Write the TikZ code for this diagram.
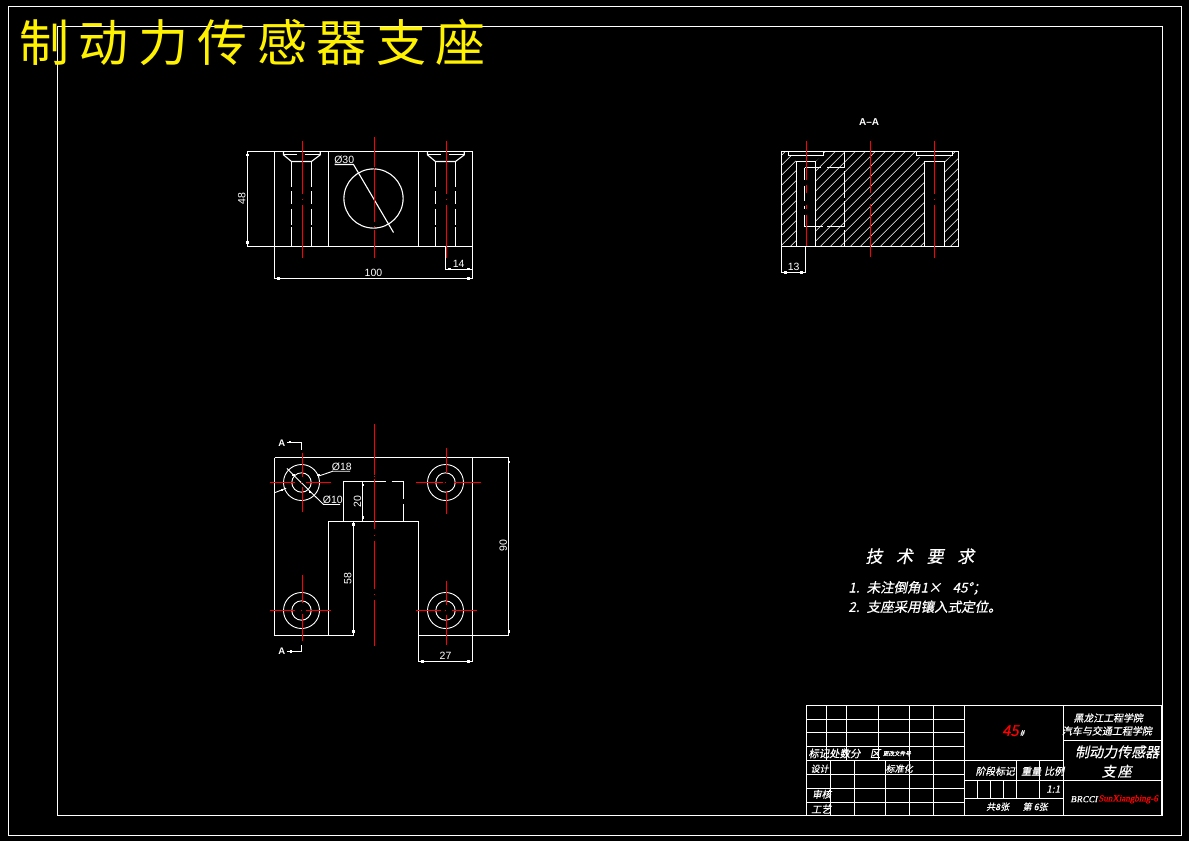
\documentclass[tikz,border=0pt]{standalone}
\usepackage{fontspec}
\setmainfont{Liberation Sans}
\newfontfamily\cjk{Noto Sans CJK SC}
\newfontfamily\cjkit[FakeSlant=0.2,FakeBold=0.5]{Noto Sans CJK SC}
\newfontfamily\serifit[FakeSlant=0.2,FakeBold=1]{Liberation Serif}
\newcommand{\fsz}[1]{\fontsize{#1}{#1}\selectfont}
\tikzset{
	outline/.style={draw=white,line width=1.1pt},
	thinline/.style={draw=white,line width=0.9pt},
	redline/.style={draw=red,line width=1.1pt},
	hatchline/.style={draw=white,line width=0.6pt},
	dimtext/.style={text=white,inner sep=0pt,font=\fsz{10.5}},
	blocktext/.style={text=white,inner sep=0pt,font=\cjkit\fsz{#1}},
	blocktext/.default=10
}
\begin{document}
\begin{tikzpicture}[x=1pt,y=-1pt,shift={(0.2,0.2)}]
	\fill[black] (-0.2,-0.2) rectangle (1188.8,840.8);
	\useasboundingbox (-0.2,-0.2) rectangle (1188.8,840.8);
	\draw[thinline] (8.3,6.3) rectangle (1181.3,835);
	\draw[thinline] (57.3,26.3) rectangle (1162,815.3);
	\node[anchor=west,text=yellow,inner sep=0pt,font=\cjk\fsz{50}\addfontfeature{LetterSpace=19}] (title) at (19,42) {制动力传感器支座};

	% upper view
	\draw[outline] (247,151.3) -- (472.7,151.3) -- (472.7,278.3) -- (274.3,278.3) -- (274.3,151.3);
	\draw[outline] (247,151.3) -- (247,246.3) -- (472.7,246.3);
	\draw[outline] (328.3,151.3) -- (328.3,246.3) (418.3,151.3) -- (418.3,246.3);
	\draw[outline] (445.3,246.3) -- (445.3,269) -- (472.7,269);
	\foreach \hx in {301.3,445.3}{
		\draw[outline] (\hx-18,151.3) -- (\hx-18,154.7) -- (\hx-10,161.3) -- (\hx+10,161.3) -- (\hx+18.7,154.7) -- (\hx+18.7,151.3);
		\draw[outline] (\hx-18,154.7) -- (\hx-5,154.7) (\hx+3,154.7) -- (\hx+18.7,154.7);
		\foreach \lx in {-10,10}
			\draw[outline] (\hx+\lx,161.3) -- (\hx+\lx,186.7) (\hx+\lx,191) -- (\hx+\lx,204) (\hx+\lx,208.7) -- (\hx+\lx,224.3) (\hx+\lx,227) -- (\hx+\lx,246.3);
		\draw[redline] (\hx+1,141) -- (\hx+1,193.3) (\hx+1,198.8) -- (\hx+1,199.8) (\hx+1,205) -- (\hx+1,257.7);
	}
	\draw[outline] (373.3,198.3) circle (29.6);
	\draw[outline] (334.3,164.3) -- (353.3,164.3) -- (393.3,232.3);
	\draw[redline] (374.3,137) -- (374.3,167) (374.3,167.3) -- (374.3,168.3) (374.3,170) -- (374.3,221.7) (374.3,225.8) -- (374.3,226.8) (374.3,230) -- (374.3,258);
	\node[dimtext] (dia30) at (344,159.5) {Ø30};
	\node[dimtext,rotate=90] (dim48) at (241.5,198.5) {48};
	\node[dimtext] (dim100) at (373.3,272.5) {100};
	\node[dimtext] (dim14) at (458.5,264) {14};

	% section view
	\begin{scope}
		\clip (781.3,151.3) -- (788.3,151.3) -- (788.3,155.7) -- (790.3,155.7) -- (796.3,161.3) -- (796.3,246.3) -- (781.3,246.3) -- cycle
			(823.7,151.3) -- (916.3,151.3) -- (916.3,155.7) -- (918,155.7) -- (924.3,161.3) -- (924.3,246.3) -- (815.3,246.3) -- (815.3,161.3) -- (821.7,155.7) -- (823.7,155.7) -- cycle
			(952.7,151.3) -- (958.7,151.3) -- (958.7,246.3) -- (944.3,246.3) -- (944.3,161.3) -- (951,155.7) -- (952.7,155.7) -- cycle;
		\foreach \hs in {680,690,...,960}
			\draw[hatchline] (\hs,246.3) -- (\hs+95,151.3);
	\end{scope}
	\draw[outline] (781.3,151.3) rectangle (958.7,246.3);
	\draw[outline] (788.3,151.3) -- (788.3,155.7) -- (823.7,155.7) -- (823.7,151.3);
	\draw[outline] (916.3,151.3) -- (916.3,155.7) -- (952.7,155.7) -- (952.7,151.3);
	\draw[outline] (796.3,246.3) -- (796.3,161.3) -- (815.3,161.3) -- (815.3,246.3);
	\draw[outline] (924.3,246.3) -- (924.3,161.3) -- (944.3,161.3) -- (944.3,246.3);
	\draw[outline] (844.3,151.3) -- (844.3,168) (844.3,171) -- (844.3,198) (844.3,201) -- (844.3,226) (844.3,230) -- (844.3,246.3);
	\draw[outline] (804.3,167.3) -- (821,167.3) (827,167.3) -- (844.3,167.3) (804.3,226.3) -- (823,226.3) (827,226.3) -- (844.3,226.3);
	\draw[outline] (804.3,167.3) -- (804.3,179.3) (804.3,185.3) -- (804.3,200.7) (804.3,205.3) -- (804.3,208.7) (804.3,214.3) -- (804.3,226.3);
	\draw[outline] (781.3,246.3) -- (781.3,272.3) -- (805.3,272.3) -- (805.3,246.3);
	\draw[redline] (806.3,141) -- (806.3,180) (806.3,185) -- (806.3,193) (806.3,205) -- (806.3,208.7) (806.3,214.3) -- (806.3,246);
	\draw[redline] (870.3,141) -- (870.3,192.7) (870.3,197.8) -- (870.3,198.8) (870.3,204) -- (870.3,256.7);
	\draw[redline] (934.3,141) -- (934.3,193.3) (934.3,198.8) -- (934.3,199.8) (934.3,205) -- (934.3,257.7);
	\node[text=white,inner sep=0pt,font=\bfseries\fsz{10}] (secname) at (869,122) {A–A};
	\node[dimtext] (dim13) at (793.5,267) {13};

	% lower view
	\draw[outline] (274.3,457.3) -- (508.7,457.3) -- (508.7,635.3) -- (418.7,635.3) -- (418.7,521.3) -- (328.3,521.3) -- (328.3,635.3);
	\draw[outline] (274.3,457.3) -- (274.3,635.3) -- (353.3,635.3) -- (353.3,521.3);
	\draw[outline] (472.3,457.3) -- (472.3,661.3) -- (418.7,661.3) -- (418.7,635.3);
	\draw[outline] (343.3,521.3) -- (343.3,481.3) -- (386,481.3) (391.3,481.3) -- (403.3,481.3) -- (403.3,498.7) (403.3,504) -- (403.3,521.3);
	\draw[outline] (362.7,481.3) -- (362.7,521.3);
	\foreach \cx/\cy in {301.3/482.3,445.3/482.3,301.3/610.3,445.3/610.3}{
		\draw[thinline] (\cx,\cy) circle (18);
		\draw[thinline] (\cx,\cy) circle (9.7);
	}
	\draw[thinline] (323.3,504.3) -- (340,504.3) (323.3,504.3) -- (286.7,468.3);
	\draw[thinline] (350,471) -- (332.7,471) -- (318,476) (286,488) -- (275,492.3);
	\draw[redline] (270,482.3) -- (295,482.3) (300.8,482.3) -- (301.8,482.3) (306,482.3) -- (331,482.3);
	\draw[redline] (302.3,452.3) -- (302.3,477) (302.3,487) -- (302.3,512);
	\draw[redline] (416,482.3) -- (442.7,482.3) (444.8,482.3) -- (445.8,482.3) (454,482.3) -- (481,482.3);
	\draw[redline] (446.3,448) -- (446.3,473) (446.3,491) -- (446.3,514);
	\draw[redline] (270,610.3) -- (295,610.3) (300.8,610.3) -- (301.8,610.3) (306,610.3) -- (331,610.3);
	\draw[redline] (302.3,575) -- (302.3,603) (302.3,614) -- (302.3,640.7);
	\draw[redline] (416,610.3) -- (441,610.3) (445,610.3) -- (446,610.3) (451.7,610.3) -- (476.7,610.3);
	\draw[redline] (446.3,581) -- (446.3,605) (446.3,615) -- (446.3,645);
	\draw[redline] (374.3,424) -- (374.3,475) (374.3,476.2) -- (374.3,477.2) (374.3,479) -- (374.3,529) (374.3,534.8) -- (374.3,535.8) (374.3,541) -- (374.3,588.3) (374.3,593.8) -- (374.3,594.8) (374.3,600) -- (374.3,646);
	\draw[thinline] (286.7,442) -- (301.7,442) -- (301.7,450);
	\draw[thinline] (286.7,651.3) -- (301.7,651.3) -- (301.7,644.3);
	\node[text=white,inner sep=0pt,font=\bfseries\fsz{9.5}] (markup) at (281.7,443) {A};
	\node[text=white,inner sep=0pt,font=\bfseries\fsz{9.5}] (marklow) at (281.7,650.7) {A};
	\node[dimtext] (dia18) at (341.7,466.5) {Ø18};
	\node[dimtext] (dia10) at (332.7,499.3) {Ø10};
	\node[dimtext,rotate=90] (dim20) at (357.3,501) {20};
	\node[dimtext,rotate=90] (dim58) at (347.5,578) {58};
	\node[dimtext,rotate=90] (dim90) at (503,545) {90};
	\node[dimtext] (dim27) at (445.3,656) {27};

	% dimension ticks
	\foreach \tx/\ty in {247.3/155,247.3/242.3,278.3/278.3,468.3/278.3,449.3/269,468.3/269,785.3/272.3,801.3/272.3,422.3/661.3,468.3/661.3,508.7/461.7,508.7/631.3,353.3/524.3,353.3/631.3,362.7/485,362.7/517.3,290/442,290.7/651.3,281.7/490,318.3/475,293.3/475,310/491.7}
		\fill[white] (\tx-1.2,\ty-1.2) rectangle (\tx+1.2,\ty+1.2);

	% notes
	\node[anchor=west,text=white,inner sep=0pt,font=\cjkit\fsz{17}\addfontfeature{LetterSpace=80}] (noteshead) at (865,556) {技术要求};
	\node[anchor=west,blocktext=13.5] (noteone) at (848,587.7) {1.\hspace{7pt}未注倒角1× \hspace{8pt}45°；};
	\node[anchor=west,blocktext=13.5] (notetwo) at (848,606.5) {2.\hspace{7pt}支座采用镶入式定位。};

	% title block
	\draw[outline] (806.3,705.3) rectangle (1161.7,815.3);
	\foreach \ry in {719.3,732.3,746.3,760.3,774.3,788.3,802.3}
		\draw[outline] (806.3,\ry) -- (964.3,\ry);
	\foreach \rx in {826.3,846.3,878.3,909.3,933.3}
		\draw[outline] (\rx,705.3) -- (\rx,760.3);
	\foreach \rx in {830.3,854.3,885.3,909.3,933.3}
		\draw[outline] (\rx,760.3) -- (\rx,815.3);
	\draw[outline] (964.3,705.3) -- (964.3,815.3) (1063.3,705.3) -- (1063.3,815.3);
	\draw[outline] (964.3,760.3) -- (1063.3,760.3) (964.3,780.3) -- (1161.7,780.3) (964.3,798.3) -- (1063.3,798.3) (1063.3,740.3) -- (1161.7,740.3);
	\draw[outline] (1016.7,760.3) -- (1016.7,798.3) (1039.3,760.3) -- (1039.3,798.3);
	\foreach \rx in {977.3,990.3,1003.3}
		\draw[outline] (\rx,780.3) -- (\rx,798.3);
	\node[anchor=west,blocktext=10.4] (revmark) at (808,753.3) {标记处数分};
	\node[blocktext=10.4] (revzone) at (875,753.3) {区};
	\node[anchor=west,blocktext=5.6] (revfile) at (882.5,753.3) {更改文件号};
	\node[blocktext=9] (design) at (819.5,768.5) {设计};
	\node[blocktext=9] (stdize) at (899,768.5) {标准化};
	\node[blocktext=9.5] (review) at (821.5,794) {审核};
	\node[blocktext=10] (craft) at (821,809) {工艺};
	\node[blocktext=15,text=red] (material) at (1013,730.5) {45\hspace{1pt}\textcolor{white}{\fsz{8}\#}};
	\node[blocktext=9.9] (college) at (1108,717.7) {黑龙江工程学院};
	\node[blocktext=10] (dept) at (1106.7,730.7) {汽车与交通工程学院};
	\node[blocktext=14] (partname) at (1117,751.7) {制动力传感器};
	\node[blocktext=14,text width=30pt,align=center] (partsub) at (1116.5,771) {支\hspace{2pt}座};
	\node[blocktext=9.8] (stage) at (995,771) {阶段标记};
	\node[blocktext=10] (weight) at (1031,771) {重量};
	\node[blocktext=10] (scaleword) at (1054,771) {比例};
	\node[blocktext=10] (scaleval) at (1053,789) {1:1};
	\node[blocktext=9] (sheets) at (997.5,806.5) {共8张};
	\node[blocktext=9] (sheetno) at (1035,806.5) {第 6张};
	\node[anchor=west,text=white,inner sep=0pt,font=\serifit\fsz{9}] (drawno) at (1070,799) {BRCCI};
	\node[anchor=west,text=red,inner sep=0pt,font=\serifit\fsz{9}] (drawer) at (1098,799) {SunXiangbing-6};
\end{tikzpicture}
\end{document}
